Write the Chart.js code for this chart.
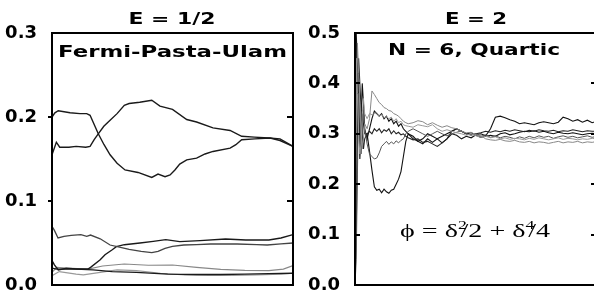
<!DOCTYPE html>
<html lang="en">
<head>
<meta charset="UTF-8">
<title>E = 1/2, E = 2</title>
<script src="https://cdn.jsdelivr.net/npm/chart.js"></script>
<style>
  html, body { margin: 0; padding: 0; background: #fff; overflow: hidden; width: 594px; height: 292px; }
  #wrap { position: relative; width: 594px; height: 292px; }
  #left { position: absolute; left: 0; top: 0; }
  #right { position: absolute; left: 297px; top: 0; }
</style>
</head>
<body>
<div id="wrap">
  <canvas id="left" width="297" height="292"></canvas>
  <canvas id="right" width="300" height="292"></canvas>
</div>
<script>
// ---- left panel: E = 1/2, Fermi-Pasta-Ulam ----
const leftTickVals = [0, 0.1, 0.2, 0.3];
const leftTickLabels = ['0.0', '0.1', '0.2', '0.3'];

const fpuAx = [0, 1.2, 2.6, 7.5, 11.6, 14.4, 15.8, 19.2, 21.6, 24.1, 27, 30.3, 35.7, 41.4, 44, 46.9, 49, 51, 53, 55.9, 60, 63.5, 66.8, 73.9, 76.3, 78.7, 84.2, 90.5, 94.6, 100];
const fpuAy = [0.200, 0.205, 0.2075, 0.205, 0.204, 0.204, 0.202, 0.180, 0.167, 0.155, 0.145, 0.137, 0.134, 0.128, 0.132, 0.129, 0.131, 0.137, 0.144, 0.149, 0.151, 0.156, 0.159, 0.163, 0.167, 0.173, 0.174, 0.175, 0.172, 0.165];

const fpuBx = [0, 1.8, 3.2, 7, 10, 14, 15.8, 17.5, 19.2, 21.5, 24.1, 27, 30, 32, 36.4, 41.4, 44.8, 50, 55.9, 60, 66.8, 73.9, 78.7, 84, 90, 94.6, 100];
const fpuBy = [0.155, 0.170, 0.164, 0.164, 0.165, 0.164, 0.165, 0.173, 0.180, 0.189, 0.196, 0.204, 0.214, 0.216, 0.2175, 0.220, 0.213, 0.209, 0.197, 0.194, 0.187, 0.184, 0.177, 0.176, 0.175, 0.174, 0.165];

const fpuCx = [0, 1, 2.5, 5, 8, 12, 14.4, 16, 20, 24.1, 28, 32, 37, 41.4, 44, 46.9, 50, 54.7, 60, 65.8, 76.8, 85, 89.3, 95, 100];
const fpuCy = [0.070, 0.065, 0.056, 0.058, 0.059, 0.060, 0.058, 0.0595, 0.055, 0.0476, 0.045, 0.0425, 0.040, 0.0385, 0.040, 0.0437, 0.046, 0.0476, 0.048, 0.0488, 0.0488, 0.048, 0.0476, 0.049, 0.050];

const fpuDx = [0, 1, 2.6, 6, 10, 14.9, 16, 20, 22, 25, 26.7, 30, 36.5, 42, 47.2, 53, 61.4, 72, 80.4, 90, 95, 100];
const fpuDy = [0.029, 0.024, 0.018, 0.020, 0.019, 0.019, 0.021, 0.030, 0.036, 0.042, 0.0456, 0.048, 0.050, 0.052, 0.054, 0.0516, 0.0528, 0.0548, 0.0536, 0.0536, 0.056, 0.060];

const fpuEx = [0, 2, 10, 17, 25, 35, 48, 60, 70, 80, 90, 100];
const fpuEy = [0.020, 0.019, 0.019, 0.018, 0.016, 0.015, 0.013, 0.0125, 0.0125, 0.013, 0.0135, 0.014];

const fpuFx = [0, 2, 6, 15, 21, 30, 40, 50, 60, 70, 80, 90, 96, 100];
const fpuFy = [0.015, 0.021, 0.020, 0.019, 0.0226, 0.025, 0.0235, 0.0238, 0.021, 0.0187, 0.0175, 0.017, 0.019, 0.023];

const fpuGx = [0, 3, 10, 13, 20, 27, 35, 45, 55, 65, 75, 85, 95, 100];
const fpuGy = [0.011, 0.016, 0.013, 0.012, 0.015, 0.018, 0.017, 0.014, 0.012, 0.0115, 0.0115, 0.012, 0.013, 0.014];

// ---- right panel: E = 2, N = 6, Quartic ----
const rightTickVals = [0, 0.1, 0.2, 0.3, 0.4, 0.5];
const rightTickLabels = ['0.0', '0.1', '0.2', '0.3', '0.4', '0.5'];

const quartX = [0, 0.5, 1, 1.5, 2, 2.5, 3, 3.5, 4,
  5, 6, 7, 8, 9, 10, 11, 12, 13, 14, 15, 16, 17, 18, 19, 20, 21, 22,
  24, 26, 28, 30, 32, 34, 36, 38, 40, 42, 44, 46, 48, 50, 52, 54, 56, 58, 60, 62, 64, 66, 68, 70, 72, 74, 76, 78, 80, 82, 84, 86, 88, 90, 92, 94, 96, 98, 100];

const quart1 = [0.00, 0.50, 0.44, 0.36, 0.30, 0.33, 0.40, 0.36, 0.31,
  0.29, 0.31, 0.33, 0.345, 0.34, 0.335, 0.34, 0.33, 0.335, 0.325, 0.33, 0.32, 0.325, 0.315, 0.32, 0.31, 0.305, 0.30,
  0.295, 0.285, 0.29, 0.30, 0.295, 0.29, 0.282, 0.29, 0.30, 0.297, 0.29, 0.295, 0.292, 0.298, 0.30, 0.296, 0.31, 0.333, 0.335, 0.332, 0.328, 0.325, 0.32, 0.322, 0.32, 0.318, 0.322, 0.324, 0.322, 0.32, 0.323, 0.333, 0.33, 0.325, 0.328, 0.323, 0.327, 0.322, 0.325];

const quart2 = [0.00, 0.15, 0.42, 0.36, 0.25, 0.30, 0.34, 0.32, 0.30,
  0.30, 0.265, 0.228, 0.195, 0.188, 0.19, 0.183, 0.19, 0.185, 0.182, 0.188, 0.19, 0.20, 0.21, 0.225, 0.255, 0.285, 0.30,
  0.29, 0.285, 0.28, 0.29, 0.283, 0.29, 0.295, 0.30, 0.305, 0.31, 0.305, 0.30, 0.302, 0.297, 0.293, 0.295, 0.297, 0.295, 0.30, 0.302, 0.298, 0.30, 0.303, 0.305, 0.304, 0.306, 0.303, 0.305, 0.302, 0.30, 0.303, 0.301, 0.30, 0.302, 0.30, 0.298, 0.30, 0.301, 0.30];

const quart3 = [0.00, 0.05, 0.22, 0.38, 0.33, 0.26, 0.30, 0.35, 0.31,
  0.28, 0.26, 0.255, 0.25, 0.252, 0.262, 0.275, 0.28, 0.285, 0.279, 0.284, 0.28, 0.286, 0.282, 0.287, 0.29, 0.30, 0.305,
  0.31, 0.305, 0.30, 0.295, 0.30, 0.305, 0.30, 0.296, 0.30, 0.303, 0.306, 0.30, 0.297, 0.30, 0.295, 0.298, 0.293, 0.296, 0.292, 0.295, 0.293, 0.29, 0.294, 0.291, 0.295, 0.292, 0.296, 0.293, 0.295, 0.291, 0.294, 0.296, 0.293, 0.295, 0.292, 0.294, 0.296, 0.293, 0.295];

const quart4 = [0.00, 0.30, 0.48, 0.42, 0.36, 0.30, 0.27, 0.29, 0.32,
  0.31, 0.33, 0.385, 0.378, 0.37, 0.362, 0.358, 0.352, 0.35, 0.346, 0.345, 0.34, 0.338, 0.335, 0.33, 0.325, 0.322, 0.32,
  0.322, 0.326, 0.324, 0.318, 0.322, 0.317, 0.313, 0.316, 0.312, 0.31, 0.305, 0.302, 0.303, 0.298, 0.296, 0.29, 0.288, 0.287, 0.289, 0.286, 0.285, 0.287, 0.284, 0.283, 0.285, 0.282, 0.284, 0.283, 0.281, 0.283, 0.285, 0.282, 0.284, 0.283, 0.285, 0.282, 0.284, 0.283, 0.285];

const quart5 = [0.00, 0.45, 0.38, 0.30, 0.26, 0.28, 0.34, 0.37, 0.34,
  0.33, 0.34, 0.338, 0.34, 0.342, 0.335, 0.338, 0.332, 0.334, 0.33, 0.333, 0.325, 0.33, 0.322, 0.325, 0.318, 0.316, 0.315,
  0.313, 0.318, 0.316, 0.314, 0.318, 0.31, 0.305, 0.308, 0.305, 0.302, 0.30, 0.297, 0.30, 0.296, 0.293, 0.295, 0.292, 0.294, 0.29, 0.292, 0.289, 0.291, 0.29, 0.288, 0.291, 0.289, 0.292, 0.29, 0.288, 0.29, 0.292, 0.289, 0.291, 0.29, 0.288, 0.29, 0.289, 0.291, 0.29];

const quart6 = [0.00, 0.10, 0.28, 0.45, 0.40, 0.35, 0.30, 0.27, 0.29,
  0.30, 0.305, 0.30, 0.31, 0.305, 0.31, 0.302, 0.308, 0.305, 0.31, 0.30, 0.306, 0.30, 0.303, 0.298, 0.30, 0.295, 0.292,
  0.288, 0.29, 0.283, 0.285, 0.28, 0.275, 0.282, 0.29, 0.305, 0.31, 0.305, 0.30, 0.298, 0.30, 0.302, 0.305, 0.303, 0.306, 0.304, 0.307, 0.305, 0.308, 0.306, 0.304, 0.307, 0.305, 0.308, 0.306, 0.305, 0.307, 0.304, 0.306, 0.305, 0.308, 0.306, 0.304, 0.306, 0.305, 0.305];

function pts(xs, ys) {
  return xs.map((x, i) => ({ x: x, y: ys[i] }));
}

function line(xs, ys, color, width) {
  return { data: pts(xs, ys), borderColor: color, borderWidth: width, pointRadius: 0, fill: false, tension: 0 };
}

// draws stretched text, the figure's lettering is wide
function wideText(ctx, txt, cx, base, font, w) {
  ctx.save();
  ctx.font = font;
  const m = ctx.measureText(txt).width;
  ctx.translate(cx, base);
  ctx.scale(w / m, 1);
  ctx.textAlign = 'center';
  ctx.textBaseline = 'alphabetic';
  ctx.fillStyle = '#000';
  ctx.fillText(txt, 0, 0);
  ctx.restore();
}

function drawFormula(ctx, x0, base, w) {
  const big = '19px "Liberation Serif", "DejaVu Serif", serif';
  const small = '12px "Liberation Serif", "DejaVu Serif", serif';
  const parts = [['\u03D5 = \u03B4', 0], ['2', 1], ['/2 + \u03B4', 0], ['4', 1], ['/4', 0]];
  ctx.save();
  let run = 0;
  const laid = parts.map(p => {
    ctx.font = p[1] ? small : big;
    const pw = ctx.measureText(p[0]).width;
    const at = run;
    run += p[1] ? pw * 0.3 : pw;
    return { t: p[0], sup: p[1], at: at };
  });
  ctx.translate(x0, base);
  ctx.scale(w / run, 1);
  ctx.fillStyle = '#000';
  ctx.textBaseline = 'alphabetic';
  laid.forEach(p => {
    ctx.font = p.sup ? small : big;
    ctx.fillText(p.t, p.at, p.sup ? -8 : 0);
  });
  ctx.restore();
}

// box round the plot, small tick marks, and the lettering
const framePlugin = {
  id: 'frame',
  afterDraw(chart, args, opts) {
    const ctx = chart.ctx;
    const a = chart.chartArea;
    const ys = chart.scales.y;
    const L = Math.round(a.left), R = Math.round(a.right);
    const T = Math.round(ys.getPixelForValue(ys.max)), B = Math.round(ys.getPixelForValue(ys.min));
    ctx.save();
    ctx.fillStyle = '#000';
    ctx.fillRect(L - 1, T - 1, R - L + 2, 2);
    ctx.fillRect(L - 1, B - 1, R - L + 2, 2);
    ctx.fillRect(L - 1, T - 1, 2, B - T + 2);
    ctx.fillRect(R - 1, T - 1, 2, B - T + 2);
    opts.ticks.forEach(v => {
      const py = Math.round(ys.getPixelForValue(v)) - 1;
      if (opts.leftIn > 0) ctx.fillRect(L, py, opts.leftIn, 2);
      else ctx.fillRect(L + opts.leftIn, py, -opts.leftIn, 2);
      ctx.fillRect(R - 6, py, 6, 2);
    });
    ctx.restore();
    (opts.texts || []).forEach(t => wideText(ctx, t.txt, t.cx, t.base, t.font, t.w));
    if (opts.formula) drawFormula(ctx, opts.formula.x, opts.formula.base, opts.formula.w);
  }
};

const titleFont = 'bold 15.5px "DejaVu Sans", sans-serif';
const labelFont = 'bold 16px "DejaVu Sans", sans-serif';

function makeChart(id, datasets, tickVals, tickLabels, yMax, axisW, pad, frameOpts) {
  return new Chart(document.getElementById(id).getContext('2d'), {
    type: 'line',
    data: { datasets: datasets },
    options: {
      responsive: false,
      animation: false,
      devicePixelRatio: 1,
      layout: { padding: pad },
      plugins: { legend: { display: false }, tooltip: { enabled: false }, frame: frameOpts },
      scales: {
        x: { type: 'linear', min: 0, max: 100, display: false },
        y: {
          min: 0, max: yMax,
          afterBuildTicks: s => { s.ticks = tickVals.map(v => ({ value: v })); },
          afterFit: s => { s.width = axisW; s.paddingTop = 0; s.paddingBottom = 0; },
          grid: { display: false },
          border: { display: false },
          ticks: {
            padding: 7,
            color: '#000',
            font: { family: '"DejaVu Sans", sans-serif', size: 18, weight: 'bold' },
            callback: (v, i) => tickLabels[i]
          }
        }
      }
    },
    plugins: [framePlugin]
  });
}

makeChart('left', [
  line(fpuAx, fpuAy, '#1a1a1a', 1.4),
  line(fpuBx, fpuBy, '#1a1a1a', 1.4),
  line(fpuCx, fpuCy, '#444', 1.3),
  line(fpuDx, fpuDy, '#1a1a1a', 1.4),
  line(fpuEx, fpuEy, '#1a1a1a', 1.3),
  line(fpuFx, fpuFy, '#888', 1.2),
  line(fpuGx, fpuGy, '#999', 1.2)
], leftTickVals, leftTickLabels, 0.3, 52, { top: 33, bottom: 7, right: 4, left: 0 }, {
  ticks: [0.1, 0.2],
  leftIn: -4,
  texts: [
    { txt: 'E = 1/2', cx: 172, base: 24, font: titleFont, w: 87 },
    { txt: 'Fermi-Pasta-Ulam', cx: 172.5, base: 56.5, font: labelFont, w: 229 }
  ]
});

makeChart('right', [
  line(quartX, quart5, '#999', 1),
  line(quartX, quart4, '#888', 1),
  line(quartX, quart3, '#555', 1),
  line(quartX, quart6, '#222', 1.1),
  line(quartX, quart2, '#111', 1.1),
  line(quartX, quart1, '#111', 1.1)
], rightTickVals, rightTickLabels, 0.5, 58, { top: 33, bottom: 7, right: 0, left: 0 }, {
  ticks: [0.1, 0.2, 0.3, 0.4],
  leftIn: 5,
  texts: [
    { txt: 'E = 2', cx: 179, base: 23.5, font: titleFont, w: 62 },
    { txt: 'N = 6, Quartic', cx: 177, base: 55, font: labelFont, w: 172 }
  ],
  formula: { x: 103, base: 237, w: 150 }
});
</script>
</body>
</html>
